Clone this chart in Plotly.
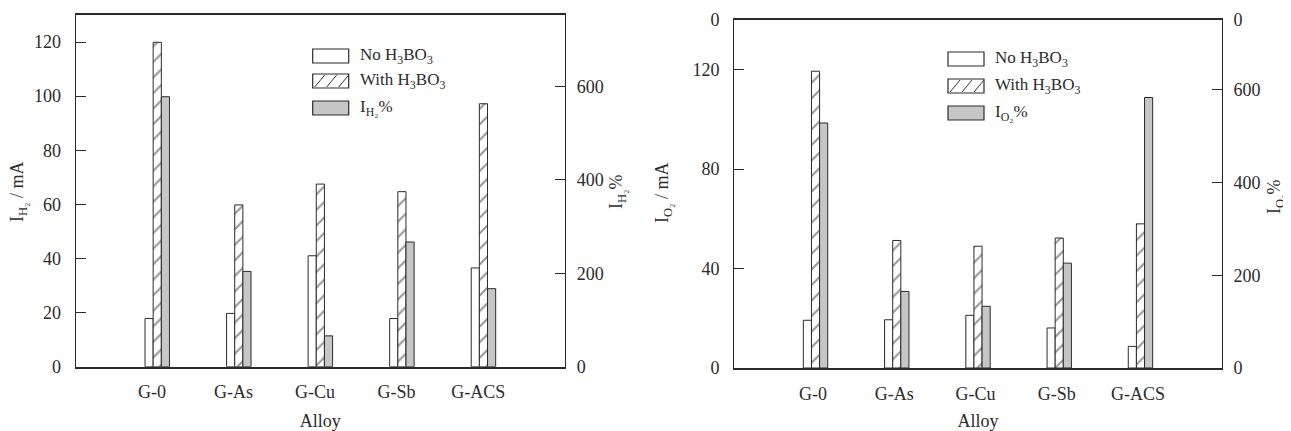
import plotly.graph_objects as go

# ---------------- data ----------------
alloys = ["G-0", "G-As", "G-Cu", "G-Sb", "G-ACS"]
h2_no_h3bo3 = [17.8, 19.7, 41.0, 17.8, 36.5]
h2_with_h3bo3 = [119.9, 59.8, 67.5, 64.7, 97.2]
h2_percent = [578, 204, 66, 267, 167]
o2_no_h3bo3 = [19.2, 19.4, 21.2, 16.1, 8.7]
o2_with_h3bo3 = [119.4, 51.3, 49.0, 52.3, 58.0]
o2_percent = [528, 165, 133, 226, 583]

left_ticks = [0, 20, 40, 60, 80, 100, 120]
left_pct_ticks = [0, 200, 400, 600]
right_ticks = [0, 40, 80, 120, 140]
right_ticktext = ["0", "40", "80", "120", "0"]
right_pct_ticks = [0, 200, 400, 600, 750]
right_pct_ticktext = ["0", "200", "400", "600", "0"]

# ---------------- layout constants ----------------
PAGE_OFF = 8            # default page margin around the figure
W, H = 1291 - PAGE_OFF, 431 - PAGE_OFF
FONT = "Liberation Serif"
FS = 18
TXT = "#2b2b2b"
LINE = "#2b2b2b"
GREY = "#c6c6c6"
BW = 0.1

def px(x):
    return (x - PAGE_OFF) / W

def py(y):
    return 1 - (y - PAGE_OFF) / H

xpos = list(range(len(alloys)))

fig = go.Figure()

def add_group(xa, ya_mA, ya_pct, no, with_, pct, pct_name):
    fig.add_trace(go.Bar(
        x=xpos, y=no, xaxis=xa, yaxis=ya_mA, width=BW, offset=-1.5 * BW,
        marker=dict(color="white", line=dict(color=LINE, width=1)),
        name="No H<sub>3</sub>BO<sub>3</sub>", showlegend=False))
    fig.add_trace(go.Bar(
        x=xpos, y=with_, xaxis=xa, yaxis=ya_mA, width=BW, offset=-0.5 * BW,
        marker=dict(color="white", line=dict(color=LINE, width=1),
                    pattern=dict(shape="/", size=11, solidity=0.2,
                                 fgcolor="#333", bgcolor="white")),
        name="With H<sub>3</sub>BO<sub>3</sub>", showlegend=False))
    fig.add_trace(go.Bar(
        x=xpos, y=pct, xaxis=xa, yaxis=ya_pct, width=BW, offset=0.5 * BW,
        marker=dict(color=GREY, line=dict(color=LINE, width=1)),
        name=pct_name, showlegend=False))

add_group("x", "y", "y2", h2_no_h3bo3, h2_with_h3bo3, h2_percent, "I<sub>H₂</sub>%")
add_group("x2", "y3", "y4", o2_no_h3bo3, o2_with_h3bo3, o2_percent, "I<sub>O₂</sub>%")

tickfont = dict(family=FONT, size=FS, color=TXT)
titlefont = dict(family=FONT, size=FS, color=TXT)

def xaxis_cfg(dom, anchor, shift):
    return dict(domain=dom, anchor=anchor, range=[-1, 5], automargin=False,
                tickvals=[i - shift for i in xpos], ticktext=alloys,
                ticks="", showgrid=False, zeroline=False,
                showline=True, linecolor=LINE, linewidth=2, mirror=True,
                tickfont=tickfont, ticklabelstandoff=8,
                title=dict(text="Alloy", font=titlefont, standoff=13))

def yaxis_cfg(dom, anchor, rng, tv, tt, side, lstand):
    d = dict(anchor=anchor, range=rng, tickvals=tv, ticktext=tt, side=side,
             automargin=False,
             ticks="inside", ticklen=10, tickcolor=LINE, tickwidth=1.2,
             showgrid=False, zeroline=False, showline=True, linecolor=LINE,
             linewidth=1.3, tickfont=tickfont, ticklabelstandoff=lstand)
    if dom is not None:
        d["domain"] = dom
    return d

fig.update_layout(
    width=W, height=H, autosize=False,
    margin=dict(l=0, r=0, t=0, b=0),
    paper_bgcolor="white", plot_bgcolor="white",
    barmode="overlay", showlegend=False,
    font=dict(family=FONT, size=FS, color=TXT),
    xaxis=xaxis_cfg([px(75.7), px(565)], "y", 0.065),
    yaxis=yaxis_cfg([py(366.7), py(15)], "x", [0, 130], left_ticks,
                    [str(v) for v in left_ticks], "left", 10),
    yaxis2=yaxis_cfg(None, "x", [0, 753], left_pct_ticks,
                     [str(v) for v in left_pct_ticks], "right", 7),
    xaxis2=xaxis_cfg([px(734.3), px(1221.7)], "y3", 0.03),
    yaxis3=yaxis_cfg([py(368), py(20)], "x2", [0, 140], right_ticks,
                     right_ticktext, "left", 10),
    yaxis4=yaxis_cfg(None, "x2", [0, 750], right_pct_ticks,
                     right_pct_ticktext, "right", 7),
)
fig.layout.yaxis2.overlaying = "y"
fig.layout.yaxis4.overlaying = "y3"

shapes = []
annotations = []

# ---------------- y-axis titles ----------------
def vtitle(x, y, text):
    annotations.append(dict(xref="paper", yref="paper", x=px(x), y=py(y),
                            xanchor="center", yanchor="middle", textangle=-90,
                            text=text, showarrow=False,
                            font=dict(family=FONT, size=FS, color=TXT)))

vtitle(19, 192, "I<sub>H₂</sub> / mA")
vtitle(618, 192, "I<sub>H₂</sub>%")
vtitle(663, 193, "I<sub>O₂</sub> / mA")
vtitle(1275, 197, "I<sub>O₂</sub>%")

# ---------------- custom legends ----------------
def legend(x0, rows_y, labels, box_w=36, box_h=14):
    kinds = ["plain", "hatch", "grey"]
    for yc, lab, kind in zip(rows_y, labels, kinds):
        y0, y1 = yc - box_h / 2, yc + box_h / 2
        fill = GREY if kind == "grey" else "white"
        shapes.append(dict(type="rect", xref="paper", yref="paper",
                           x0=px(x0), x1=px(x0 + box_w), y0=py(y1), y1=py(y0),
                           fillcolor=fill, line=dict(color=LINE, width=1.2)))
        if kind == "hatch":
            for k in range(3):
                bx = x0 + 2 + 12 * k
                shapes.append(dict(type="line", xref="paper", yref="paper",
                                   x0=px(bx), y0=py(y1 - 1),
                                   x1=px(bx + 10), y1=py(y0 + 1),
                                   line=dict(color="#333", width=1)))
        annotations.append(dict(xref="paper", yref="paper", x=px(x0 + box_w + 9),
                                y=py(yc), xanchor="left", yanchor="middle",
                                text=lab, showarrow=False,
                                font=dict(family=FONT, size=FS - 1, color=TXT)))

legend(312.7, [56, 81, 108],
       ["No H<sub>3</sub>BO<sub>3</sub>", "With H<sub>3</sub>BO<sub>3</sub>", "I<sub>H₂</sub>%"])
legend(948, [59, 86, 113],
       ["No H<sub>3</sub>BO<sub>3</sub>", "With H<sub>3</sub>BO<sub>3</sub>", "I<sub>O₂</sub>%"])

fig.update_layout(shapes=shapes, annotations=annotations)

fig.write_html("out.html")
